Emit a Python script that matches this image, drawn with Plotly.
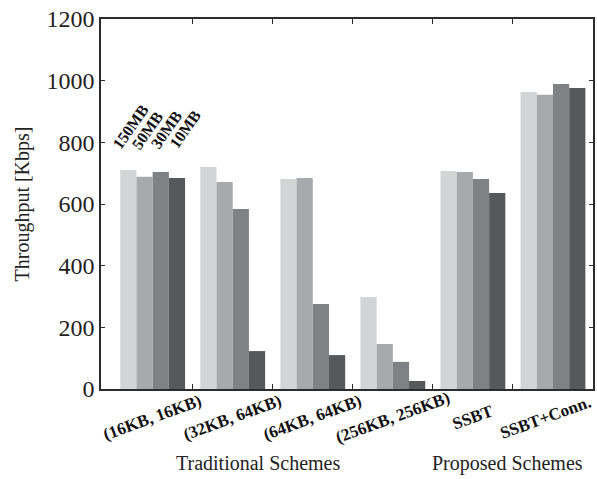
import plotly.graph_objects as go

# Throughput per buffer configuration, one series per file size
schemes = ["(16KB, 16KB)", "(32KB, 64KB)", "(64KB, 64KB)",
           "(256KB, 256KB)", "SSBT", "SSBT+Conn."]
file_sizes = ["150MB", "50MB", "30MB", "10MB"]
tp_150mb = [710, 720, 681, 298, 707, 963]
tp_50mb = [688, 671, 684, 146, 704, 954]
tp_30mb = [704, 584, 276, 88, 681, 989]
tp_10mb = [684, 123, 110, 26, 636, 976]
y_ticks = [0, 200, 400, 600, 800, 1000, 1200]
group_titles = ["Traditional Schemes", "Proposed Schemes"]

series = [tp_150mb, tp_50mb, tp_30mb, tp_10mb]
colors = ["#d3d4d6", "#a8a9ac", "#808184", "#57585b"]

SERIF = "Liberation Serif, Times New Roman, serif"
AXIS = "#2b2b2b"

fig = go.Figure()
xs = list(range(len(schemes)))
for name, vals, col in zip(file_sizes, series, colors):
    fig.add_trace(go.Bar(x=xs, y=vals, name=name, marker_color=col,
                         marker_line_width=0, showlegend=False))

# Series names written diagonally above the first group
legend_x = [-0.27, -0.07, 0.17, 0.40]
legend_y = [850, 840, 843, 843]
for name, lx, ly in zip(file_sizes, legend_x, legend_y):
    fig.add_annotation(x=lx, y=ly, xref="x", yref="y", text=f"<b>{name}</b>",
                       showarrow=False, textangle=-55,
                       font=dict(family=SERIF, size=16, color="#111"),
                       xanchor="center", yanchor="middle")

# Rotated category labels under each group (last one nudged in from the edge)
label_shift = [0, 0, 0, 0, 0, -7]
for i, (s, dx) in enumerate(zip(schemes, label_shift)):
    fig.add_annotation(x=i, y=-0.078, xref="x", yref="paper", text=f"<b>{s}</b>",
                       showarrow=False, textangle=-20, xshift=dx,
                       font=dict(family=SERIF, size=17, color="#111"),
                       xanchor="center", yanchor="middle")

fig.add_annotation(x=1.32, y=-0.2, xref="x", yref="paper", text=group_titles[0],
                   showarrow=False, font=dict(family=SERIF, size=20, color="#222"),
                   xanchor="center", yanchor="middle")
fig.add_annotation(x=4.43, y=-0.2, xref="x", yref="paper", text=group_titles[1],
                   showarrow=False, font=dict(family=SERIF, size=20, color="#222"),
                   xanchor="center", yanchor="middle")

fig.update_layout(
    width=597, height=479,
    margin=dict(l=101, r=2, t=19, b=90),
    plot_bgcolor="white", paper_bgcolor="white",
    barmode="group", bargap=0.19, bargroupgap=0,
    xaxis=dict(range=[-0.645, 5.5],
               tickvals=[i + 0.5 for i in range(len(schemes) - 1)],
               ticktext=["" for _ in range(len(schemes) - 1)],
               ticks="inside", ticklen=5, tickcolor=AXIS, tickwidth=1,
               showline=True, linecolor=AXIS, linewidth=1.5, mirror="ticks",
               showgrid=False, zeroline=False, layer="below traces"),
    yaxis=dict(range=[0, 1200], tickvals=y_ticks,
               ticks="inside", ticklen=4, tickcolor=AXIS, tickwidth=1,
               showline=True, linecolor=AXIS, linewidth=1.5, mirror="ticks",
               showgrid=False, zeroline=False,
               tickfont=dict(family=SERIF, size=24, color="#222"),
               title=dict(text="Throughput [Kbps]", standoff=11,
                          font=dict(family=SERIF, size=20, color="#222"))),
)

fig.write_html("out.html")
